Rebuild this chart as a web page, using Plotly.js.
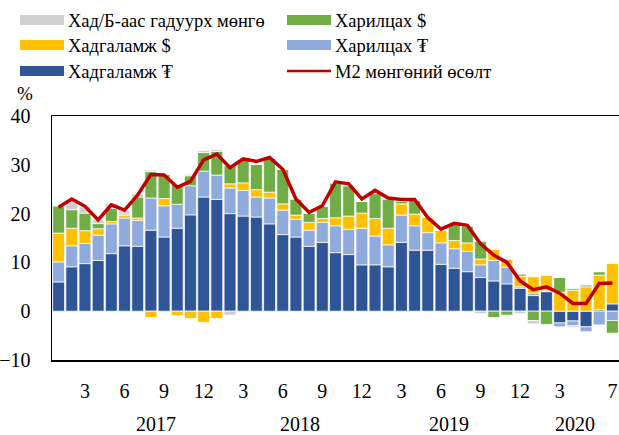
<!DOCTYPE html>
<html>
<head>
<meta charset="utf-8">
<script src="https://cdn.plot.ly/plotly-3.0.1.min.js"></script>
<style>html,body{margin:0;padding:0;background:#fff;}#chart{width:619px;height:435px;}</style>
</head>
<body>
<div id="chart"></div>
<script>
const periods = [
  '2017/1','2017/2','2017/3','2017/4','2017/5','2017/6','2017/7','2017/8','2017/9','2017/10','2017/11','2017/12',
  '2018/1','2018/2','2018/3','2018/4','2018/5','2018/6','2018/7','2018/8','2018/9','2018/10','2018/11','2018/12',
  '2019/1','2019/2','2019/3','2019/4','2019/5','2019/6','2019/7','2019/8','2019/9','2019/10','2019/11','2019/12',
  '2020/1','2020/2','2020/3','2020/4','2020/5','2020/6','2020/7'
];
const tickPeriods = ['2017/3','2017/6','2017/9','2017/12','2018/3','2018/6','2018/9','2018/12','2019/3','2019/6','2019/9','2019/12','2020/3','2020/7'];
const tickText = ['3','6','9','12','3','6','9','12','3','6','9','12','3','7'];
const years = ['2017','2018','2019','2020'];

// Хадгаламж ₮
const depositMNT = [6.0,9.1,9.75,10.4,11.8,13.4,13.3,16.6,15.2,17.0,19.75,23.4,
  22.9,20.0,19.5,19.3,17.9,15.7,15.2,13.3,14.1,12.0,11.6,9.5,
  9.5,9.1,14.1,12.5,12.5,9.6,8.8,8.1,6.9,6.2,5.6,4.7,
  3.2,4.0,-2.4,-2.0,-3.2,0.3,1.5];
// Харилцах ₮
const currentMNT = [4.1,4.3,4.15,5.2,6.1,5.7,5.3,6.6,6.4,4.9,5.95,5.3,
  5.0,5.25,5.25,4.1,5.3,5.0,3.65,3.3,4.1,5.5,5.2,7.5,
  5.9,4.5,5.6,5.0,3.6,4.4,4.0,4.15,2.6,4.2,3.4,0.3,
  0.5,0.2,-0.8,-1.0,-1.0,-2.8,-1.9];
// Хадгаламж $
const depositUSD = [5.9,3.6,2.6,1.3,0.5,0.5,0.5,-1.3,1.5,-0.9,-1.5,-2.3,
  -1.5,0.85,1.55,1.5,1.2,1.3,0.85,1.6,0.8,1.65,2.7,3.1,
  3.6,3.4,2.3,2.4,3.1,2.6,1.7,1.75,1.2,2.3,1.7,2.2,
  3.35,3.2,3.9,4.3,5.0,7.1,8.3];
// Харилцах $
const currentUSD = [5.6,3.8,3.6,1.05,2.7,0.3,4.3,5.4,4.9,4.1,2.05,3.8,
  4.85,3.7,4.6,5.2,6.95,7.1,3.3,1.9,2.5,7.1,6.2,2.4,
  5.1,6.0,0.5,2.8,0,0,3.5,3.5,3.6,-1.3,-0.8,0.4,
  -1.9,-2.7,3.0,0.3,0.4,0.7,-2.6];
// Хад/Б-аас гадуурх мөнгө
const outsideBanks = [0,1.9,1.3,0.75,1.0,0.6,0.6,0.3,0.1,0,0.3,0.4,
  0.35,-0.8,0.2,0,0,0,0,0,0,0,0,0,
  0,0,0,0,0,0,0,0,-0.5,0,0,-0.5,
  -0.7,0,0,-0.3,0,0,0];
// М2 мөнгөний өсөлт
const m2Growth = [21.3,23.0,21.5,18.7,21.8,20.7,23.8,28.0,27.9,25.4,26.6,31.0,
  32.2,29.4,31.2,30.7,31.5,29.1,23.0,20.25,21.6,26.5,26.1,23.0,
  24.75,23.2,22.9,22.9,19.2,16.8,18.0,17.6,13.8,11.5,10.0,6.2,
  4.4,5.0,3.7,1.6,1.6,5.7,5.8];

const seriesNames = ['Хадгаламж ₮','Харилцах ₮','Хадгаламж $','Харилцах $','Хад/Б-аас гадуурх мөнгө','М2 мөнгөний өсөлт'];
const colors = {dMNT:'#2F5597', cMNT:'#8FAADC', dUSD:'#FFC000', cUSD:'#70AD47', out:'#CFCFCF', m2:'#C00000'};

const font = 'Liberation Serif, Times New Roman, serif';
function bar(y, name, color){
  return {type:'bar', x:periods, y:y, name:name, marker:{color:color, line:{color:'rgba(255,255,255,0.9)', width:0.8}}, showlegend:false, hoverinfo:'x+y+name'};
}
const traces = [
  bar(depositMNT, seriesNames[0], colors.dMNT),
  bar(currentMNT, seriesNames[1], colors.cMNT),
  bar(depositUSD, seriesNames[2], colors.dUSD),
  bar(currentUSD, seriesNames[3], colors.cUSD),
  bar(outsideBanks, seriesNames[4], colors.out),
  {type:'scatter', mode:'lines', x:periods, y:m2Growth, name:seriesNames[5], line:{color:colors.m2, width:3.5}, showlegend:false}
];

// plot area in pixels
const L=52, R=619, T=116, B=360;
const px = x => (x-L)/(R-L);
const py = y => (B-y)/(B-T);

const legendItems = [
  {name:seriesNames[4], color:colors.out, x:20, y:20, kind:'rect'},
  {name:seriesNames[3], color:colors.cUSD, x:287, y:20, kind:'rect'},
  {name:seriesNames[2], color:colors.dUSD, x:20, y:45, kind:'rect'},
  {name:seriesNames[1], color:colors.cMNT, x:287, y:45, kind:'rect'},
  {name:seriesNames[0], color:colors.dMNT, x:20, y:71, kind:'rect'},
  {name:seriesNames[5], color:colors.m2, x:287, y:71, kind:'line'}
];
const shapes = [];
const annotations = [];
legendItems.forEach(it=>{
  if(it.kind==='rect'){
    shapes.push({type:'rect', xref:'paper', yref:'paper', x0:px(it.x), x1:px(it.x+44), y0:py(it.y+5), y1:py(it.y-5), fillcolor:it.color, line:{width:0}});
  } else {
    shapes.push({type:'line', xref:'paper', yref:'paper', x0:px(it.x), x1:px(it.x+44), y0:py(it.y), y1:py(it.y), line:{color:it.color, width:2.5}});
  }
  annotations.push({xref:'paper', yref:'paper', x:px(it.x+46), y:py(it.y+1), xanchor:'left', yanchor:'middle', text:it.name, showarrow:false, font:{family:font, size:18.5, color:'#000'}});
});
annotations.push({xref:'paper', yref:'paper', x:px(15), y:py(93), xanchor:'left', yanchor:'middle', text:'%', showarrow:false, font:{family:font, size:19, color:'#000'}});
const yearPos = [7.4, 18.3, 29.6, 39.2];
years.forEach((yr,k)=>{
  annotations.push({xref:'x', yref:'paper', x:yearPos[k], y:py(424), xanchor:'center', yanchor:'middle', text:yr, showarrow:false, font:{family:font, size:20, color:'#000'}});
});

const layout = {
  width:619, height:435,
  margin:{l:L, r:619-R, t:T, b:435-B, pad:0},
  paper_bgcolor:'#fff', plot_bgcolor:'#fff',
  barmode:'relative', bargap:0.1,
  font:{family:font, size:20, color:'#000'},
  xaxis:{type:'category', range:[-0.5,42.5], tickmode:'array', tickvals:tickPeriods, ticktext:tickText,
    showgrid:false, zeroline:false, showline:true, linecolor:'#000', linewidth:1.5, mirror:true,
    ticks:'', ticklabelstandoff:12, tickfont:{family:font, size:20, color:'#000'}, fixedrange:true},
  yaxis:{range:[-10,40], dtick:10, showgrid:false, zeroline:false, showline:true, linecolor:'#000', linewidth:1.5, mirror:true,
    ticks:'', ticklabelstandoff:16, tickfont:{family:font, size:20, color:'#000'}, fixedrange:true},
  shapes:shapes, annotations:annotations, showlegend:false
};
Plotly.newPlot('chart', traces, layout, {displayModeBar:false, staticPlot:true});
</script>
</body>
</html>
